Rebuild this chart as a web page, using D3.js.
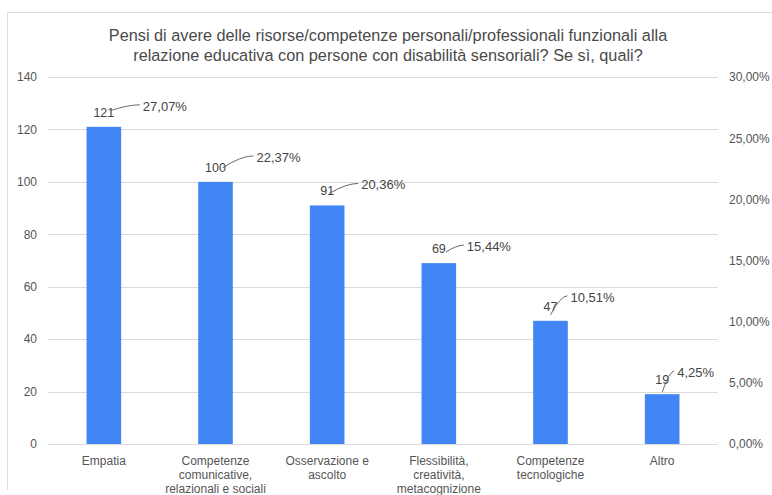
<!DOCTYPE html>
<html>
<head>
<meta charset="utf-8">
<script src="https://cdn.jsdelivr.net/npm/d3@7"></script>
<style>
  html, body { margin: 0; padding: 0; background: #ffffff; }
  svg { display: block; font-family: "Liberation Sans", Arial, sans-serif; }
</style>
</head>
<body>
<svg id="chart" width="772" height="495"></svg>
<script>
// Survey answers: count of responses per category and share of total
const categories = [
  "Empatia",
  "Competenze\ncomunicative,\nrelazionali e sociali",
  "Osservazione e\nascolto",
  "Flessibilità,\ncreatività,\nmetacognizione",
  "Competenze\ntecnologiche",
  "Altro"
];
const counts = [121, 100, 91, 69, 47, 19];
const shares = [27.07, 22.37, 20.36, 15.44, 10.51, 4.25];
const countTicks = [0, 20, 40, 60, 80, 100, 120, 140];
const shareTicks = [0, 5, 10, 15, 20, 25, 30];
const titleLines = [
  "Pensi di avere delle risorse/competenze personali/professionali funzionali alla",
  "relazione educativa con persone con disabilità sensoriali? Se sì, quali?"
];

// Label layout per bar, relative to the top-centre of the bar:
// [percent label dx, percent label dy, leader start dx, leader start dy]
const labelLayout = [
  [39, -16, 6, -16],
  [41, -20, 7, -14],
  [34, -16, 2, -12],
  [28, -12, 7, -11],
  [20, -19, 0, -6],
  [15, -17, 0, -2]
];

const W = 772, H = 495;
const plot = { left: 48, right: 718, top: 77, bottom: 444 };
const textColor = "#555555";
const barColor = "#4285f4";
const gridColor = "#dadada";

const it = d3.formatLocale({ decimal: ",", thousands: ".", grouping: [3], currency: ["€", ""] });
const fmtPct = it.format(".2f");

const svg = d3.select("#chart");
svg.append("rect").attr("width", W).attr("height", H).attr("fill", "#ffffff");

// Chart frame (top and left edges)
svg.append("path")
  .attr("d", `M7.5,${H - 5} V12.5 H${W}`)
  .attr("fill", "none").attr("stroke", "#dcdcdc").attr("stroke-width", 1);

// Title
svg.append("g").selectAll("text").data(titleLines).join("text")
  .attr("x", 388).attr("y", (d, i) => 41 + i * 20)
  .attr("text-anchor", "middle")
  .attr("font-size", 16.3).attr("fill", "#4a4a4a")
  .text(d => d);

const x = d3.scaleBand()
  .domain(categories)
  .range([plot.left, plot.right])
  .paddingInner(0.69)
  .paddingOuter(0.345);

const y = d3.scaleLinear().domain([0, 140]).range([plot.bottom, plot.top]);
const y2 = d3.scaleLinear().domain([0, 30]).range([plot.bottom, plot.top]);

// Gridlines and left axis
const leftAxis = d3.axisLeft(y).tickValues(countTicks).tickSize(-(plot.right - plot.left)).tickPadding(11);
const gL = svg.append("g").attr("transform", `translate(${plot.left},0)`).call(leftAxis);
gL.select(".domain").remove();
gL.selectAll(".tick line").attr("stroke", gridColor).attr("shape-rendering", "crispEdges");
gL.selectAll(".tick text").attr("fill", textColor).attr("font-size", 12)
  .attr("font-family", "Liberation Sans, Arial, sans-serif");

// Right axis (percent)
const rightAxis = d3.axisRight(y2).tickValues(shareTicks).tickSize(0).tickPadding(11)
  .tickFormat(d => fmtPct(d) + "%");
const gR = svg.append("g").attr("transform", `translate(${plot.right},0)`).call(rightAxis);
gR.select(".domain").remove();
gR.selectAll(".tick text").attr("fill", textColor).attr("font-size", 12)
  .attr("font-family", "Liberation Sans, Arial, sans-serif");

// Bars
svg.append("g").selectAll("rect").data(counts).join("rect")
  .attr("x", (d, i) => x(categories[i]))
  .attr("y", d => y(d))
  .attr("width", x.bandwidth())
  .attr("height", d => y(0) - y(d))
  .attr("fill", barColor);

// Category labels (multi-line)
const gCat = svg.append("g");
categories.forEach(c => {
  const cx = x(c) + x.bandwidth() / 2;
  const t = gCat.append("text")
    .attr("text-anchor", "middle")
    .attr("font-size", 12).attr("fill", textColor);
  c.split("\n").forEach((line, j) => {
    t.append("tspan").attr("x", cx).attr("y", 465 + j * 14).text(line);
  });
});

// Value labels, percentage labels and leader lines
const gLab = svg.append("g").attr("fill", "#444444");
counts.forEach((v, i) => {
  const cx = x(categories[i]) + x.bandwidth() / 2;
  const top = y(v);
  gLab.append("text")
    .attr("x", cx).attr("y", top - 10)
    .attr("text-anchor", "middle")
    .attr("font-size", 12.5)
    .text(v);
  const [dx, dy, sx, sy] = labelLayout[i];
  const px = cx + dx, py = top + dy;
  gLab.append("text").attr("x", px).attr("y", py)
    .attr("font-size", 13)
    .text(fmtPct(shares[i]) + "%");

  const x1 = cx + sx, y1 = top + sy;
  const x2 = px - 3, y2p = py - 6;
  const qx = x1 + (x2 - x1) * 0.6;
  gLab.append("path")
    .attr("d", `M${x1},${y1} Q${qx},${y2p} ${x2},${y2p}`)
    .attr("fill", "none").attr("stroke", "#6a6a6a").attr("stroke-width", 1);
});
</script>
</body>
</html>
